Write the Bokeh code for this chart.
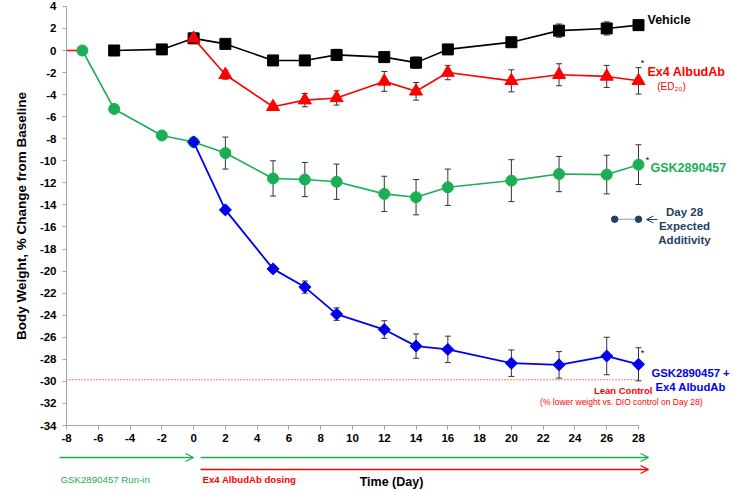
from bokeh.plotting import figure
from bokeh.models import (ColumnDataSource, FixedTicker, Label, Arrow, OpenHead,
                          Whisker, TeeHead, Range1d)
from bokeh.embed import file_html
from bokeh.resources import INLINE

# ---------------- data ----------------
vehicle_days = [-5, -2, 0, 2, 5, 7, 9, 12, 14, 16, 20, 23, 26, 28]
vehicle = [0.0, 0.1, 1.1, 0.6, -0.9, -0.9, -0.4, -0.6, -1.1, 0.1, 0.75, 1.8, 2.0, 2.3]
vehicle_err = [0.2, 0.2, 0.3, 0.3, 0.3, 0.3, 0.5, 0.4, 0.5, 0.3, 0.4, 0.6, 0.6, 0.4]

ex4_runin_days = [-8, -7]
ex4_runin = [0.0, 0.0]
ex4_days = [0, 2, 5, 7, 9, 12, 14, 16, 20, 23, 26, 28]
ex4 = [1.1, -2.2, -5.1, -4.5, -4.3, -2.8, -3.7, -2.0, -2.75, -2.2, -2.35, -2.75]
ex4_err = [0.3, 0.4, 0.3, 0.6, 0.65, 0.9, 0.8, 0.65, 1.0, 1.0, 1.0, 1.2]

gsk_days = [-7, -5, -2, 0, 2, 5, 7, 9, 12, 14, 16, 20, 23, 26, 28]
gsk = [0.0, -5.3, -7.7, -8.3, -9.3, -11.6, -11.7, -11.9, -13.0, -13.3, -12.4, -11.8, -11.2, -11.25, -10.35]
gsk_err = [0.0, 0.2, 0.2, 0.4, 1.45, 1.6, 1.55, 1.6, 1.6, 1.6, 1.65, 1.9, 1.6, 1.75, 1.8]

combo_days = [0, 2, 5, 7, 9, 12, 14, 16, 20, 23, 26, 28]
combo = [-8.3, -14.45, -19.8, -21.45, -23.9, -25.3, -26.8, -27.1, -28.35, -28.5, -27.7, -28.45]
combo_err = [0.4, 0.3, 0.3, 0.55, 0.57, 0.8, 1.1, 1.2, 1.2, 1.2, 1.7, 1.5]

additivity_days = [26.5, 28]
additivity = [-15.3, -15.3]

lean_control_days = [-8, 28]
lean_control = [-29.85, -29.85]

x_ticks = list(range(-8, 29, 2))
y_ticks = list(range(-34, 5, 2))
x_tick_labels = [str(t) for t in x_ticks]
y_tick_labels = [str(t) for t in y_ticks]

# ---------------- geometry (canvas pixel <-> data) ----------------
W, H = 733, 490
X0_PX, XS = 66.0, 572.0 / 36.0      # x=-8 at px 66, px per day
Y0_PX, YS = 50.0, 375.0 / 34.0      # y=0 at px 50, px per % unit


def X(px):
    return -8 + (px - X0_PX) / XS


def Y(py):
    return (Y0_PX - py) / YS


FONT = "Liberation Sans"
BLACK = "#000000"
RED = "#FF0000"
GREEN = "#1AAF54"
BLUE = "#0000F0"
NAVY = "#243F63"
ERR = "#333333"

p = figure(width=W, height=H, x_range=Range1d(X(0), X(W)), y_range=Range1d(Y(H), Y(0)),
           output_backend="svg", toolbar_location=None,
           min_border_left=0, min_border_right=0, min_border_top=0, min_border_bottom=0)
p.outline_line_color = None
p.xgrid.visible = False
p.ygrid.visible = False
p.background_fill_color = "white"
p.border_fill_color = "white"

for ax in (p.xaxis[0], p.yaxis[0]):
    ax.axis_line_color = "#A6A6A6"
    ax.major_tick_line_color = "#A6A6A6"
    ax.minor_tick_line_color = None
    ax.major_tick_out = 4
    ax.major_tick_in = 0
    ax.major_label_text_font = FONT
    ax.major_label_text_font_style = "bold"
    ax.major_label_text_font_size = "11.5px"
    ax.major_label_text_color = BLACK
p.xaxis.ticker = FixedTicker(ticks=x_ticks)
p.yaxis.ticker = FixedTicker(ticks=y_ticks)
p.xaxis.major_label_overrides = dict(zip(x_ticks, x_tick_labels))
p.yaxis.major_label_overrides = dict(zip(y_ticks, y_tick_labels))
p.xaxis.bounds = (-8, 28)
p.yaxis.bounds = (-34, 4)
p.xaxis.fixed_location = -34
p.yaxis.fixed_location = -8
p.xaxis.major_label_standoff = 4
p.yaxis.major_label_standoff = 6
p.yaxis.axis_label = "Body Weight, % Change from Baseline"
p.yaxis.axis_label_text_font = FONT
p.yaxis.axis_label_text_font_style = "bold"
p.yaxis.axis_label_text_font_size = "13.5px"
p.yaxis.axis_label_text_color = BLACK
p.yaxis.axis_label_standoff = 8


def whiskers(days, vals, errs):
    src = ColumnDataSource(dict(x=days,
                                upper=[v + e for v, e in zip(vals, errs)],
                                lower=[v - e for v, e in zip(vals, errs)]))
    w = Whisker(source=src, base="x", upper="upper", lower="lower",
                line_color=ERR, line_width=1, level="underlay",
                upper_head=TeeHead(size=6, line_color=ERR, line_width=1),
                lower_head=TeeHead(size=6, line_color=ERR, line_width=1))
    p.add_layout(w)


for d, v, e in ((vehicle_days, vehicle, vehicle_err), (ex4_days, ex4, ex4_err),
                (gsk_days, gsk, gsk_err), (combo_days, combo, combo_err)):
    whiskers(d, v, e)

# lean control reference
p.line(lean_control_days, lean_control, line_color="#E00000", line_width=1.1, line_dash="1 2")

# vehicle
p.line(vehicle_days, vehicle, line_color=BLACK, line_width=1.6)
p.scatter(vehicle_days, vehicle, marker="square", size=11, fill_color=BLACK, line_color=BLACK)

# Ex4 AlbudAb
p.line(ex4_runin_days, ex4_runin, line_color=RED, line_width=1.6)
p.line(ex4_days, ex4, line_color=RED, line_width=1.6)
p.scatter(ex4_days, ex4, marker="triangle", size=13, fill_color=RED, line_color=RED)

# GSK2890457
p.line(gsk_days, gsk, line_color=GREEN, line_width=1.6)
p.scatter(gsk_days, gsk, marker="circle", size=11, fill_color=GREEN, line_color=GREEN)

# combination
p.line(combo_days, combo, line_color=BLUE, line_width=1.8)
p.scatter(combo_days, combo, marker="square", angle=0.785398, size=8.5,
          fill_color=BLUE, line_color=BLUE)

# expected additivity
p.line(additivity_days, additivity, line_color="#8A9BB5", line_width=1)
p.scatter(additivity_days, additivity, marker="circle", size=6.5, fill_color=NAVY, line_color=NAVY)


def lab(px, py, text, color, size, bold=True, align="left"):
    p.add_layout(Label(x=X(px), y=Y(py), text=text, text_color=color, text_font=FONT,
                       text_font_size=size, text_font_style="bold" if bold else "normal",
                       text_align=align, text_baseline="middle"))


lab(647, 19, "Vehicle", BLACK, "12.5px")
lab(642, 62, "*", BLACK, "9px", bold=False, align="center")
lab(647, 71, "Ex4 AlbudAb", RED, "12.5px")
lab(671, 86, "(ED\u2082\u2080)", RED, "10px", bold=False, align="center")
lab(647, 159, "*", BLACK, "9px", bold=False, align="center")
lab(650, 167, "GSK2890457", GREEN, "12.5px")
lab(684, 211, "Day 28", NAVY, "11.5px", align="center")
lab(684, 225, "Expected", NAVY, "11.5px", align="center")
lab(684, 239, "Additivity", NAVY, "11.5px", align="center")
lab(642, 352, "*", BLACK, "9px", bold=False, align="center")
lab(651, 372, "GSK2890457 +", BLUE, "11.3px")
lab(655, 386, "Ex4 AlbudAb", BLUE, "11.3px")
lab(652, 390, "Lean Control", RED, "9.5px", align="right")
lab(622, 401, "(% lower weight  vs. DIO control on Day 28)", RED, "8.5px", bold=False, align="center")

p.add_layout(Arrow(x_start=X(657), y_start=Y(219), x_end=X(646), y_end=Y(219),
                   line_color=NAVY, line_width=1,
                   end=OpenHead(size=7, line_color=NAVY, line_width=1)))

# bottom treatment arrows
p.add_layout(Arrow(x_start=X(59), y_start=Y(457), x_end=X(193), y_end=Y(457),
                   line_color=GREEN, line_width=1.3,
                   end=OpenHead(size=8, line_color=GREEN, line_width=1.3)))
p.add_layout(Arrow(x_start=X(200), y_start=Y(457), x_end=X(648), y_end=Y(457),
                   line_color=GREEN, line_width=1.3,
                   end=OpenHead(size=8, line_color=GREEN, line_width=1.3)))
p.add_layout(Arrow(x_start=X(200), y_start=Y(469), x_end=X(648), y_end=Y(469),
                   line_color=RED, line_width=1.3,
                   end=OpenHead(size=8, line_color=RED, line_width=1.3)))
lab(60, 479, "GSK2890457 Run-in", GREEN, "9.7px", bold=False)
lab(202, 479, "Ex4 AlbudAb dosing", RED, "9.6px")
lab(391, 481, "Time (Day)", BLACK, "12.5px", align="center")

open("out.html", "w").write(file_html(p, INLINE))
